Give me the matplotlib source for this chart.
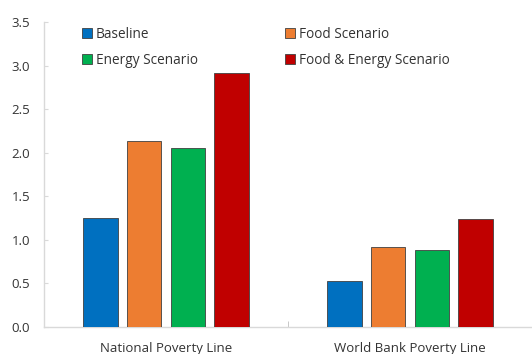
import matplotlib
matplotlib.use("Agg")
import matplotlib.pyplot as plt
import numpy as np

plt.rcParams['font.family'] = ['Open Sans', 'DejaVu Sans']

categories = ["National Poverty Line", "World Bank Poverty Line"]
series_names = ["Baseline", "Food Scenario", "Energy Scenario", "Food & Energy Scenario"]
baseline = [1.25, 0.53]
food = [2.14, 0.92]
energy = [2.05, 0.88]
food_energy = [2.92, 1.24]
colors = ["#0070C0", "#ED7D31", "#00B050", "#C00000"]
yticks = [0.0, 0.5, 1.0, 1.5, 2.0, 2.5, 3.0, 3.5]

fig = plt.figure(figsize=(5.32, 3.54), dpi=100)
ax = fig.add_axes([44 / 532, 27 / 354, 488 / 532, 305 / 354])

x = np.arange(len(categories))
width = 0.143
step = 0.18
all_series = [baseline, food, energy, food_energy]
handles = []
for i, (vals, name, c) in enumerate(zip(all_series, series_names, colors)):
    offs = (i - 1.5) * step
    b = ax.bar(x + offs, vals, width, color=c, edgecolor="#404040",
               linewidth=0.6, label=name, zorder=3)
    handles.append(b)

ax.set_xlim(-0.5, 1.5)
ax.set_ylim(0, 3.5)
ax.set_yticks(yticks)
ax.set_yticklabels([f"{v:.1f}" for v in yticks])
ax.set_xticks(x)
ax.set_xticklabels(categories)
ax.set_xticks([0.5], minor=True)

for s in ["top", "right"]:
    ax.spines[s].set_visible(False)
for s in ["left", "bottom"]:
    ax.spines[s].set_color("#D9D9D9")
    ax.spines[s].set_linewidth(1.0)

ax.tick_params(axis="y", direction="in", length=3, color="#D9D9D9",
               labelsize=9.5, labelcolor="#333333", pad=10)
ax.tick_params(axis="x", which="major", length=0, labelsize=9.5,
               labelcolor="#333333", pad=11)
ax.tick_params(axis="x", which="minor", direction="in", length=4,
               color="#BFBFBF")

# legend laid out row-wise: Baseline / Food on the first row
order = [0, 2, 1, 3]
leg = ax.legend(handles=[handles[i] for i in order], ncol=2, loc="upper left",
                bbox_to_anchor=(0.052, 1.025), frameon=False,
                fontsize=9.8, handlelength=0.75, handleheight=0.75,
                handletextpad=0.3, columnspacing=6.4, labelspacing=0.85,
                labelcolor="#333333")
for h in leg.legend_handles:
    h.set_edgecolor("#404040")
    h.set_linewidth(0.6)

fig.savefig("out.png", dpi=100)
